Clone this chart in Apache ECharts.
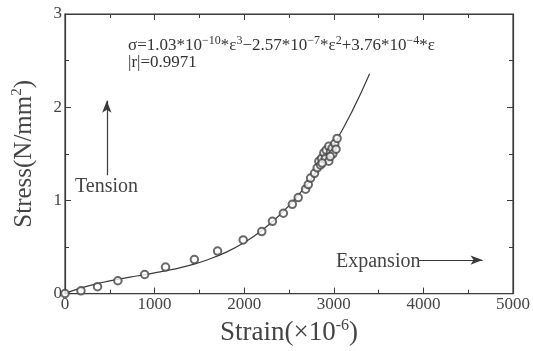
<!DOCTYPE html>
<html><head><meta charset="utf-8">
<script src="https://cdn.jsdelivr.net/npm/echarts@6/dist/echarts.min.js"></script>
<style>html,body{margin:0;padding:0;background:#fff}#c{width:533px;height:351px}</style>
</head><body><div id="c"></div>
<script>
// Fitted curve
var curveStrain = [0,200,400,600,800,1000,1200,1400,1600,1800,2000,2200,2400,2600,2800,3000,3200,3400];
var curveStress = [0,0.066,0.116,0.155,0.189,0.222,0.259,0.305,0.366,0.445,0.548,0.680,0.846,1.051,1.299,1.596,1.947,2.358];
// Measured points
var ptStrain = [0,178,363,590,889,1122,1444,1703,1989,2196,2315,2437,2537,2603,2685,2715,2741,2785,2815,2833,2852,2863,2889,2907,2915,2944,2944,2963,2981,3011,2990,3037,3025,2960,2870];
var ptStress = [0,0.03,0.074,0.138,0.205,0.285,0.365,0.456,0.576,0.665,0.776,0.862,0.958,1.03,1.12,1.17,1.24,1.29,1.35,1.42,1.38,1.45,1.51,1.45,1.54,1.58,1.42,1.52,1.56,1.61,1.50,1.665,1.55,1.47,1.40];
var xTicks = [0,1000,2000,3000,4000,5000];
var yTicks = [0,1,2,3];

var curve = curveStrain.map(function(x,i){return [x,curveStress[i]];});
var pts = ptStrain.map(function(x,i){return [x,ptStress[i]];});
var serif = '"Liberation Serif","DejaVu Serif",serif';
var ink = '#3a3a3a';
var chart = echarts.init(document.getElementById('c'));
function ax(pos, show, extra){
  var o = {
    type:'value', position:pos, min:0,
    axisLine:{show:true,onZero:false,lineStyle:{color:ink,width:1.2}},
    axisTick:{show:true,inside:true,length:6,lineStyle:{color:ink}},
    minorTick:{show:true,splitNumber:2,length:4,lineStyle:{color:ink}},
    splitLine:{show:false},
    axisLabel:{show:show,color:'#444',fontFamily:serif,fontSize:17,margin:3}
  };
  for (var k in extra) o[k]=extra[k];
  return o;
}
function titleStyle(sz){ return {color:'#444',fontFamily:serif,fontSize:sz,
  rich:{s:{fontSize:Math.round(sz*0.6),verticalAlign:'top',fontFamily:serif,color:'#444',padding:[0,0,Math.round(sz*0.5),0]}}}; }
var option = {
  animation:false,
  backgroundColor:'#fff',
  grid:{left:65,right:18,top:14,bottom:54,show:true,borderColor:ink,borderWidth:1.2,backgroundColor:'transparent'},
  xAxis:[
    ax('bottom',true,{max:5000,interval:1000,
      name:'Strain(×10{s|-6})',nameLocation:'middle',nameGap:23,
      nameTextStyle:titleStyle(27),
      axisLabel:{show:true,color:'#444',fontFamily:serif,fontSize:17,margin:2,
        formatter:function(v){return xTicks.indexOf(v)>=0?String(v):'';}}}),
    ax('top',false,{max:5000,interval:1000})
  ],
  yAxis:[
    ax('left',true,{max:3,interval:1,
      name:'Stress(N/mm{s|2})',nameLocation:'middle',nameGap:27,nameRotate:90,
      nameTextStyle:titleStyle(25),
      axisLabel:{show:true,color:'#444',fontFamily:serif,fontSize:17,margin:3,
        formatter:function(v){return yTicks.indexOf(v)>=0?String(v):'';}}}),
    ax('right',false,{max:3,interval:1})
  ],
  series:[
    {type:'line',data:curve,smooth:true,showSymbol:false,symbol:'none',
     lineStyle:{color:ink,width:1.2},z:2,
     markLine:{silent:true,symbol:['none','arrow'],symbolSize:[7,12],
       lineStyle:{color:ink,width:1.2,type:'solid'},label:{show:false},
       data:[
         [{coord:[467,1.27]},{coord:[467,2.07]}],
         [{coord:[3950,0.36]},{coord:[4660,0.36]}]
       ]}},
    {type:'scatter',data:pts,symbol:'emptyCircle',symbolSize:7.5,
     itemStyle:{color:'#444',borderColor:'#444',borderWidth:0.9},z:3},
    {type:'line',xAxisIndex:1,yAxisIndex:1,data:[],silent:true}
  ],
  graphic:[
    {type:'text',left:128,top:35,style:{
      text:'σ=1.03*10{s|−10}*ε{s|3}−2.57*10{s|−7}*ε{s|2}+3.76*10{s|−4}*ε',
      fill:'#333',font:'17px '+serif,
      rich:{s:{fontSize:12,fontFamily:serif,fill:'#333',verticalAlign:'top',padding:[0,0,10,0]}}}},
    {type:'text',left:128,top:54,style:{text:'|r|=0.9971',fill:'#333',font:'17px '+serif}},
    {type:'text',left:75,top:177,style:{text:'Tension',fill:'#444',font:'20px '+serif}},
    {type:'text',left:336,top:252,style:{text:'Expansion',fill:'#444',font:'20px '+serif}}
  ]
};
chart.setOption(option);
</script></body></html>
